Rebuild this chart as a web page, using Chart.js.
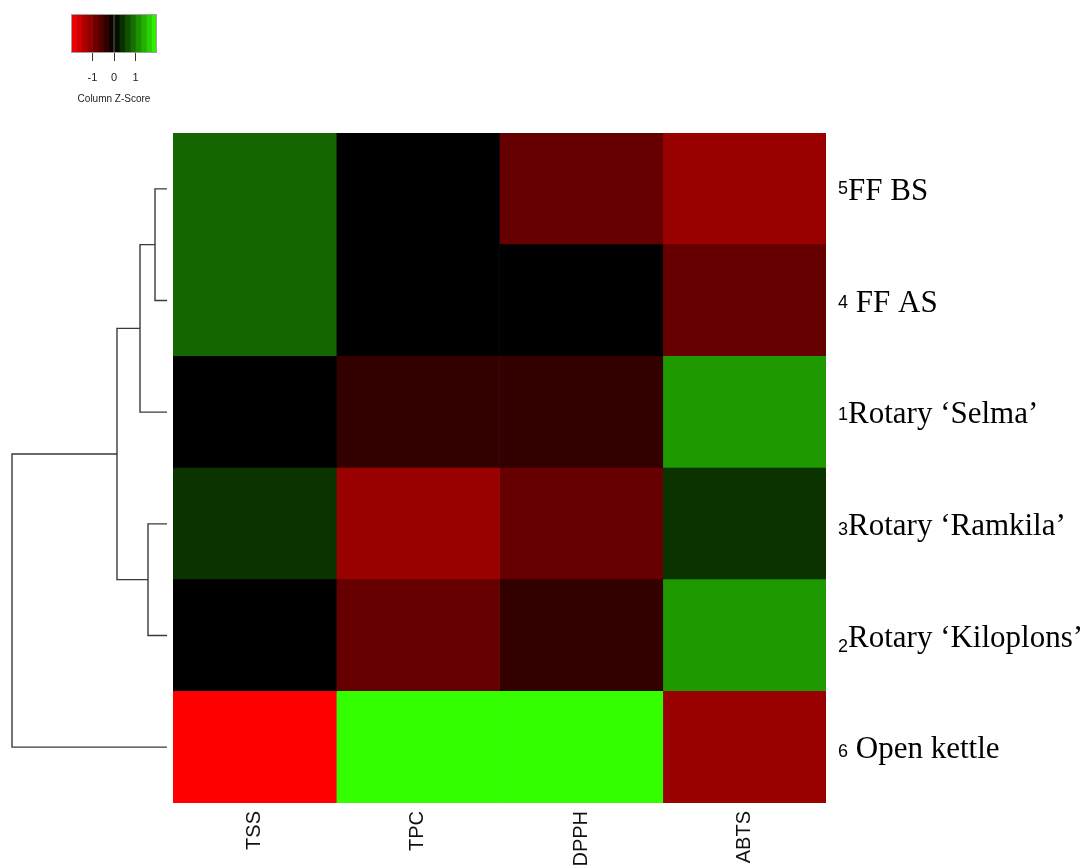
<!DOCTYPE html>
<html>
<head>
<meta charset="utf-8">
<title>Column Z-Score heatmap</title>
<script src="https://cdn.jsdelivr.net/npm/chart.js@4.4.1/dist/chart.umd.min.js"></script>
<style>
    body { margin: 0; background: #fff; }
    #wrap { position: relative; width: 1089px; height: 868px; }
    #wrap canvas { position: absolute; left: 0; top: 0; }
</style>
</head>
<body>
<div id="wrap">
    <canvas id="heatChart" width="1089" height="868"></canvas>
    <canvas id="dendroChart" width="1089" height="868"></canvas>
    <canvas id="keyChart" width="1089" height="868"></canvas>
</div>
<script>
// DATA

const rowNumbers = ['5', '4', '1', '3', '2', '6'];
const rowNames = ['FF BS', ' FF AS', 'Rotary ‘Selma’', 'Rotary ‘Ramkila’', 'Rotary ‘Kiloplons’', ' Open kettle'];
const columns = ['TSS', 'TPC', 'DPPH', 'ABTS'];

// column z-scores, one per row, top to bottom
const tssZ = [0.8, 0.8, 0, 0.4, 0, -2.0];
const tpcZ = [0, 0, -0.4, -1.2, -0.8, 2.0];
const dpphZ = [-0.8, 0, -0.4, -0.8, -0.4, 2.0];
const abtsZ = [-1.2, -0.8, 1.2, 0.4, 1.2, -1.2];

// row dendrogram: nodes 0-5 are the rows, 6+ are the merges in order
const mergeLeft = [0, 3, 6, 8, 9];
const mergeRight = [1, 4, 2, 7, 5];
const mergeHeight = [0.12, 0.19, 0.27, 0.50, 1.55];

// colour key
const keyBreaks = [-2, -1.75, -1.5, -1.25, -1, -0.75, -0.5, -0.25, 0, 0.25, 0.5, 0.75, 1, 1.25, 1.5, 1.75, 2];
const keyTicks = [-1, 0, 1];

function zColour(z) {
    const f = Math.max(-1, Math.min(1, z / 2));
    if (f < 0) {
        return `rgb(${Math.round(-f * 255)},0,0)`;
    }
    return `rgb(${Math.round(f * 51)},${Math.round(f * 255)},0)`;
}

// HEATMAP

const numShift = [-6, -4, -3, 0, 5, -1];

const rowLabelPlugin = {
    id: 'rowLabels',
    afterDraw(chart) {
        const ctx = chart.ctx;
        const yScale = chart.scales.y;
        const x0 = chart.chartArea.right + 12;
        ctx.save();
        ctx.fillStyle = '#000';
        ctx.textBaseline = 'alphabetic';
        ctx.textAlign = 'left';
        for (let i = 0; i < rowNames.length; i++) {
            const base = yScale.getPixelForValue(i) + 11;
            ctx.font = '18px "Liberation Sans"';
            ctx.fillText(rowNumbers[i], x0, base + numShift[i]);
            const w = ctx.measureText(rowNumbers[i]).width;
            ctx.font = '31px "Liberation Serif"';
            ctx.fillText(rowNames[i], x0 + w, base);
        }
        ctx.restore();
    }
};

const heatDatasets = [tssZ, tpcZ, dpphZ, abtsZ].map((zs, c) => ({
    label: columns[c],
    data: zs.map(() => 1),
    backgroundColor: zs.map(zColour),
    borderWidth: 0,
    barPercentage: 1,
    categoryPercentage: 1,
}));

new Chart(document.getElementById('heatChart'), {
    type: 'bar',
    data: { labels: rowNames, datasets: heatDatasets },
    options: {
        indexAxis: 'y',
        responsive: false,
        animation: false,
        layout: { padding: { left: 173, right: 263, top: 133, bottom: 0 } },
        plugins: { legend: { display: false }, tooltip: { enabled: false } },
        scales: {
            x: {
                type: 'linear',
                stacked: true,
                min: 0,
                max: columns.length,
                afterBuildTicks: (s) => { s.ticks = columns.map((c, i) => ({ value: i + 0.5 })); },
                afterFit: (s) => { s.height = 65; },
                ticks: {
                    autoSkip: false,
                    minRotation: 90,
                    maxRotation: 90,
                    padding: 0,
                    color: '#111',
                    font: { family: 'Liberation Sans', size: 20 },
                    callback: (v) => columns[Math.floor(v)],
                },
                grid: { display: false },
                border: { display: false },
            },
            y: { stacked: true, display: false },
        },
    },
    plugins: [rowLabelPlugin],
});

// DENDROGRAM

const nodeY = rowNames.map((n, i) => i);
const nodeH = rowNames.map(() => 0);
const dendroDatasets = [];

for (let m = 0; m < mergeLeft.length; m++) {
    const a = mergeLeft[m];
    const b = mergeRight[m];
    const h = mergeHeight[m];
    dendroDatasets.push({
        data: [
            { x: nodeH[a], y: nodeY[a] },
            { x: h, y: nodeY[a] },
            { x: h, y: nodeY[b] },
            { x: nodeH[b], y: nodeY[b] },
        ],
        showLine: true,
        pointRadius: 0,
        borderColor: '#3a3a3a',
        borderWidth: 1.4,
        clip: false,
    });
    nodeY.push((nodeY[a] + nodeY[b]) / 2);
    nodeH.push(h);
}

new Chart(document.getElementById('dendroChart'), {
    type: 'scatter',
    data: { datasets: dendroDatasets },
    options: {
        responsive: false,
        animation: false,
        layout: { padding: { left: 12, right: 922, top: 133, bottom: 65 } },
        plugins: { legend: { display: false }, tooltip: { enabled: false } },
        scales: {
            x: { type: 'linear', display: false, reverse: true, min: 0, max: Math.max(...mergeHeight) },
            y: { type: 'linear', display: false, reverse: true, min: -0.5, max: rowNames.length - 0.5 },
        },
    },
});

// COLOUR KEY

const keyBorder = {
    id: 'keyBorder',
    afterDatasetsDraw(chart) {
        const { left, top, width, height } = chart.chartArea;
        const ctx = chart.ctx;
        ctx.save();
        ctx.strokeStyle = '#a0a0a0';
        ctx.lineWidth = 1;
        ctx.strokeRect(left + 0.5, top + 0.5, width - 1, height - 1);
        ctx.restore();
    }
};

const keyDatasets = keyBreaks.slice(0, -1).map((b, i) => ({
    data: [[b, keyBreaks[i + 1]]],
    backgroundColor: zColour((b + keyBreaks[i + 1]) / 2),
    grouped: false,
    barPercentage: 1,
    categoryPercentage: 1,
    borderWidth: 0,
}));

new Chart(document.getElementById('keyChart'), {
    type: 'bar',
    data: { labels: [''], datasets: keyDatasets },
    options: {
        indexAxis: 'y',
        responsive: false,
        animation: false,
        layout: { padding: { left: 71, right: 932, top: 14, bottom: 759 } },
        plugins: { legend: { display: false }, tooltip: { enabled: false } },
        scales: {
            x: {
                type: 'linear',
                min: keyBreaks[0],
                max: keyBreaks[keyBreaks.length - 1],
                afterBuildTicks: (s) => { s.ticks = keyTicks.map(v => ({ value: v })); },
                afterFit: (s) => { s.height = 56; },
                ticks: { padding: 10, color: '#222', font: { family: 'Liberation Sans', size: 11 } },
                grid: { drawOnChartArea: false, drawTicks: true, tickLength: 8, color: '#333', lineWidth: 1 },
                border: { display: false },
                title: {
                    display: true,
                    text: 'Column Z-Score',
                    color: '#222',
                    font: { family: 'Liberation Sans', size: 10 },
                    padding: { top: 4, bottom: 4 },
                },
            },
            y: { display: false },
        },
    },
    plugins: [keyBorder],
});
</script>
</body>
</html>
